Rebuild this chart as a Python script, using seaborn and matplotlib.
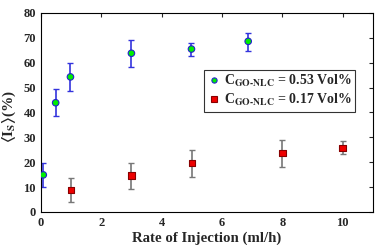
import numpy as np
import pandas as pd
import matplotlib
matplotlib.use("Agg")
import matplotlib.pyplot as plt
import seaborn as sns

# data
rate_high = [0.08, 0.49, 0.98, 3.0, 4.99, 6.87]
is_high = [14.9, 43.9, 54.3, 63.8, 65.5, 68.6]
err_high_lo = [5.0, 5.3, 5.6, 5.4, 2.7, 3.8]
err_high_hi = [4.9, 5.4, 5.7, 5.3, 2.6, 3.2]

rate_low = [1.0, 3.0, 5.0, 8.0, 10.0]
is_low = [8.8, 14.7, 19.6, 23.6, 25.8]
err_low_lo = [4.8, 5.5, 5.7, 5.4, 2.6]
err_low_hi = [4.7, 5.1, 5.4, 5.3, 2.8]

labels = [r"C$_{\mathbf{GO\text{-}NLC}}$ = 0.53 Vol%",
          r"C$_{\mathbf{GO\text{-}NLC}}$ = 0.17 Vol%"]

sns.set_style("white")
plt.rcParams["font.family"] = ["Liberation Serif", "DejaVu Serif"]
plt.rcParams["font.weight"] = "bold"
plt.rcParams["mathtext.fontset"] = "stix"
plt.rcParams["mathtext.default"] = "bf"

df = pd.concat([
    pd.DataFrame({"rate": rate_high, "Is": is_high, "series": labels[0]}),
    pd.DataFrame({"rate": rate_low, "Is": is_low, "series": labels[1]}),
])

fig = plt.figure(figsize=(3.82, 2.45), dpi=100)
ax = fig.add_axes([0.107, 0.135, 0.869, 0.812])

ax.errorbar(rate_high, is_high, yerr=[err_high_lo, err_high_hi], fmt="none",
            ecolor="#3333dd", elinewidth=1.2, capsize=2, capthick=1, zorder=2)
ax.errorbar(rate_low, is_low, yerr=[err_low_lo, err_low_hi], fmt="none",
            ecolor="#777777", elinewidth=1.2, capsize=2, capthick=1, zorder=2)

sns.scatterplot(data=df, x="rate", y="Is", hue="series", style="series",
                palette=["#00ee00", "#ee0000"], markers=["o", "s"],
                s=22, linewidth=0.8, ax=ax, zorder=3)
# edge colours per series
pts = ax.collections[-1]
pts.set_edgecolors(["#2222cc"] * len(rate_high) + ["#880000"] * len(rate_low))

ax.set_xlim(0, 11)
ax.set_ylim(0, 80)
ax.set_xticks(range(0, 11, 2))
ax.set_yticks(range(0, 81, 10))
ax.tick_params(direction="in", top=True, right=True, length=3, width=0.8,
               labelsize=9)
for lab in ax.get_xticklabels() + ax.get_yticklabels():
    lab.set_fontweight("bold")
for sp in ax.spines.values():
    sp.set_color("black")
    sp.set_linewidth(0.8)

ax.set_xlabel("Rate of Injection (ml/h)", fontsize=10.7, fontweight="bold", labelpad=2)
ax.set_ylabel(r"$\langle$I$_{\mathbf{S}}\rangle$(%)", fontsize=11, fontweight="bold")
ax.yaxis.set_label_coords(-0.068, 0.48)

handles, _ = ax.get_legend_handles_labels()
handles[0].set_markeredgecolor("#2222cc")
handles[1].set_markeredgecolor("#880000")
leg = ax.legend(handles, labels, loc="upper left", bbox_to_anchor=(0.47, 0.75),
                frameon=True, fancybox=False, edgecolor="black", fontsize=10,
                handletextpad=0.2, borderpad=0.25, labelspacing=0.2,
                handlelength=1.0, markerscale=0.8)
leg.get_frame().set_linewidth(0.8)

fig.savefig("out.png", dpi=100)
